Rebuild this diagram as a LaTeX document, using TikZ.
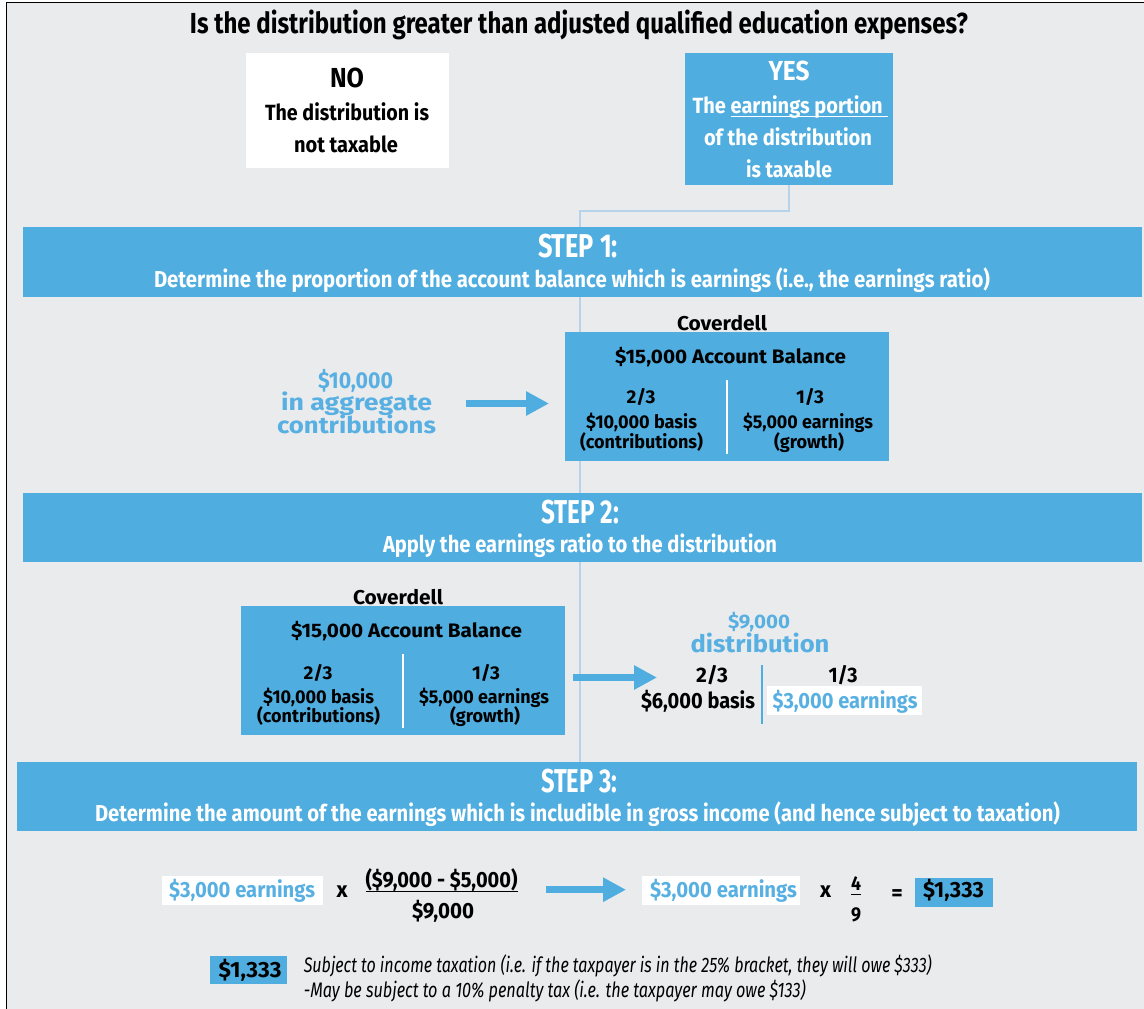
\documentclass[tikz,border=0pt]{standalone}
\usepackage{fontspec}
\setmainfont{Fira Sans}
\usetikzlibrary{arrows.meta}
\definecolor{cblue}{RGB}{79,173,223}
\definecolor{tblue}{RGB}{88,176,226}
\definecolor{bgc}{RGB}{234,235,237}
\definecolor{connc}{RGB}{182,211,233}
\newlength\fwlen
\newcommand\fitw[2]{\settowidth\fwlen{#2}\pgfmathsetmacro\fwfac{#1/\fwlen}\scalebox{\fwfac}[1]{#2}}
\newcommand\fsz[1]{\fontsize{#1}{#1}\selectfont}
\newcommand\uln[1]{\setbox0\hbox{#1}\rlap{\rule[-4pt]{\wd0}{1.4pt}}\box0}
\tikzset{
  lbl/.style={anchor=base, inner sep=0pt, outer sep=0pt},
  bsz/.style={font=\bfseries\fsz{#1}},
  box/.style={inner sep=0pt, outer sep=0pt, draw=none},
  bluebox/.style={box, fill=cblue},
  whitebox/.style={box, fill=white},
  bigarrow/.style={draw=cblue, line width=7pt, -{Triangle[length=23pt,width=23pt]}},
  conn/.style={draw=connc, line width=2pt},
  divw/.style={draw=white, line width=2pt},
  divb/.style={draw=cblue, line width=2.5pt},
}
\begin{document}
\begin{tikzpicture}[x=1pt,y=-1pt]
\useasboundingbox (0,0) rectangle (1144,1009);
\fill[white] (0,0) rectangle (1144,1009);
\fill[bgc] (6.5,2.5) rectangle (1144,1009);
\draw[line width=1.5pt] (6.5,1009) -- (6.5,2.5) -- (1144,2.5);

% title
\node[lbl,bsz=29] (title) at (579,33) {\fitw{778}{Is the distribution greater than adjusted qualified education expenses?}};

% NO box
\node[whitebox, minimum width=203, minimum height=115] (nobox) at (347.5,110.5) {};
\node[lbl,bsz=27.5] (no1) at (347,87) {\fitw{34}{NO}};
\node[lbl,bsz=22] (no2) at (347,120) {\fitw{164}{The distribution is}};
\node[lbl,bsz=22] (no3) at (346,152) {\fitw{104}{not taxable}};

% YES box
\node[bluebox, minimum width=208, minimum height=132] (yes) at (789,119) {};
\node[lbl,bsz=27.5,text=white] (yes1) at (789,80) {\fitw{41}{YES}};
\node[lbl,bsz=22,text=white] (yes2) at (790,113) {\fitw{195}{The \uln{earnings portion }}};
\node[lbl,bsz=22,text=white] (yes3) at (788,145) {\fitw{168}{of the distribution}};
\node[lbl,bsz=22,text=white] (yes4) at (789,177) {\fitw{86}{is taxable}};

% connector
\coordinate (jn) at (580,211);
\coordinate (cend) at (580,763);
\draw[conn] (yes.south) |- (jn) -- (cend);

% STEP 1
\node[bluebox, minimum width=1119, minimum height=70] (bar1) at (582.5,262) {};
\node[lbl,bsz=33,text=white] (st1) at (578,257) {\fitw{80}{STEP 1:}};
\node[lbl,bsz=23,text=white] (sub1) at (572,287) {\fitw{836}{Determine the proportion of the account balance which is earnings (i.e., the earnings ratio)}};

% box 1
\node[lbl,bsz=20] (cov1) at (722,330) {\fitw{90}{Coverdell}};
\node[bluebox, minimum width=324, minimum height=129] (box1) at (727,396.5) {};
\node[lbl,bsz=19.5] (acct1) at (730.5,363) {\fitw{231}{\$15,000 Account Balance}};
\draw[divw] ([yshift=16.5pt]box1.center) -- ([yshift=-57.5pt]box1.center);
\node[lbl,bsz=18.5] (b1l1) at (641,403) {\fitw{29}{2/3}};
\node[lbl,bsz=18.5] (b1l2) at (641.5,428) {\fitw{111}{\$10,000 basis}};
\node[lbl,bsz=18.5] (b1l3) at (641.5,448) {\fitw{123}{(contributions)}};
\node[lbl,bsz=18.5] (b1r1) at (810,403) {\fitw{28}{1/3}};
\node[lbl,bsz=18.5] (b1r2) at (808,428) {\fitw{130}{\$5,000 earnings}};
\node[lbl,bsz=18.5] (b1r3) at (809,448) {\fitw{70}{(growth)}};

% contributions
\node[lbl,bsz=23,text=tblue] (c1) at (355.5,388) {\fitw{75}{\$10,000}};
\node[lbl,bsz=23,text=tblue] (c2) at (356.5,410) {\fitw{151}{in aggregate}};
\node[lbl,bsz=23,text=tblue] (c3) at (356.5,433) {\fitw{159}{contributions}};
\coordinate (a1s) at (466,403.5);
\coordinate (a1e) at (549,403.5);
\draw[bigarrow] (a1s) -- (a1e);

% STEP 2
\node[bluebox, minimum width=1119, minimum height=69] (bar2) at (582.5,527.5) {};
\node[lbl,bsz=33,text=white] (st2) at (580,523) {\fitw{78}{STEP 2:}};
\node[lbl,bsz=23,text=white] (sub2) at (580,552) {\fitw{394}{Apply the earnings ratio to the distribution}};

% box 2
\node[lbl,bsz=20] (cov2) at (398,604) {\fitw{90}{Coverdell}};
\node[bluebox, minimum width=324, minimum height=129] (box2) at (403,670.5) {};
\node[lbl,bsz=19.5] (acct2) at (406.5,637) {\fitw{231}{\$15,000 Account Balance}};
\draw[divw] ([yshift=16.5pt]box2.center) -- ([yshift=-57.5pt]box2.center);
\node[lbl,bsz=18.5] (b2l1) at (318,679) {\fitw{29}{2/3}};
\node[lbl,bsz=18.5] (b2l2) at (318.5,703) {\fitw{111}{\$10,000 basis}};
\node[lbl,bsz=18.5] (b2l3) at (318.5,722) {\fitw{123}{(contributions)}};
\node[lbl,bsz=18.5] (b2r1) at (486,679) {\fitw{28}{1/3}};
\node[lbl,bsz=18.5] (b2r2) at (484,703) {\fitw{130}{\$5,000 earnings}};
\node[lbl,bsz=18.5] (b2r3) at (485,722) {\fitw{70}{(growth)}};

\coordinate (a2s) at (573,677.5);
\coordinate (a2e) at (657,677.5);
\draw[bigarrow] (a2s) -- (a2e);

% distribution
\node[lbl,bsz=19.5,text=tblue] (d1) at (759,628) {\fitw{62}{\$9,000}};
\node[lbl,bsz=24,text=tblue] (d2) at (760,652) {\fitw{139}{distribution}};
\node[lbl,bsz=21] (r1) at (712,682) {\fitw{32}{2/3}};
\node[lbl,bsz=22] (r2) at (698,708) {\fitw{114}{\$6,000 basis}};
\coordinate (dv1) at (762,665);
\coordinate (dv2) at (762,724);
\draw[divb] (dv1) -- (dv2);
\node[lbl,bsz=21] (r3) at (843,682) {\fitw{29}{1/3}};
\node[whitebox, minimum width=155, minimum height=29] (wb3) at (844.5,700.5) {};
\node[lbl,bsz=22,text=tblue] (r4) at (845,708) {\fitw{145}{\$3,000 earnings}};

% STEP 3
\node[bluebox, minimum width=1120, minimum height=69] (bar3) at (577,796.5) {};
\node[lbl,bsz=33,text=white] (st3) at (579,792) {\fitw{76}{STEP 3:}};
\node[lbl,bsz=23,text=white] (sub3) at (577.5,821) {\fitw{965}{Determine the amount of the earnings which is includible in gross income (and hence subject to taxation)}};

% formula
\node[whitebox, minimum width=161, minimum height=29] (wb1) at (242.5,890.5) {};
\node[lbl,bsz=22,text=tblue] (e1) at (242,897) {\fitw{146}{\$3,000 earnings}};
\node[lbl,bsz=22] (x1) at (342,897) {\fitw{11}{x}};
\node[lbl,bsz=22] (f1) at (441.5,887) {\fitw{152}{(\$9,000 - \$5,000)}};
\coordinate (fl1) at (366,891.5);
\coordinate (fl2) at (518,891.5);
\draw[line width=1.5pt] (fl1) -- (fl2);
\node[lbl,bsz=22] (f2) at (443,918) {\fitw{62}{\$9,000}};
\coordinate (a3s) at (546,889.7);
\coordinate (a3e) at (626,889.7);
\draw[bigarrow] (a3s) -- (a3e);
\node[whitebox, minimum width=158, minimum height=29] (wb2) at (721,890.5) {};
\node[lbl,bsz=22,text=tblue] (e2) at (723.5,897) {\fitw{147}{\$3,000 earnings}};
\node[lbl,bsz=22] (x2) at (825.5,897) {\fitw{11}{x}};
\node[lbl,bsz=20] (n4) at (856,890) {\fitw{10}{4}};
\coordinate (fm1) at (851,894.5);
\coordinate (fm2) at (861,894.5);
\draw[line width=1.5pt] (fm1) -- (fm2);
\node[lbl,bsz=20] (n9) at (856,921) {\fitw{10}{9}};
\node[inner sep=0pt, font=\bfseries\fsz{22}] (eq) at (897,895) {=};
\node[bluebox, minimum width=78, minimum height=29] (res1) at (954,892.5) {};
\node[lbl,bsz=22] (res1t) at (953.5,897) {\fitw{61}{\$1,333}};

% note
\node[bluebox, minimum width=77, minimum height=28] (res2) at (248.5,970) {};
\node[lbl,bsz=22] (res2t) at (250,977) {\fitw{63}{\$1,333}};
\node[anchor=base west, inner sep=0pt, font=\itshape\fsz{21}] (it1) at (303.6,972) {\fitw{628}{Subject to income taxation (i.e. if the taxpayer is in the 25\% bracket, they will owe \$333)}};
\node[anchor=base west, inner sep=0pt, font=\itshape\fsz{21}] (it2) at (303.6,997) {\fitw{502}{-May be subject to a 10\% penalty tax (i.e. the taxpayer may owe \$133)}};
\end{tikzpicture}
\end{document}
